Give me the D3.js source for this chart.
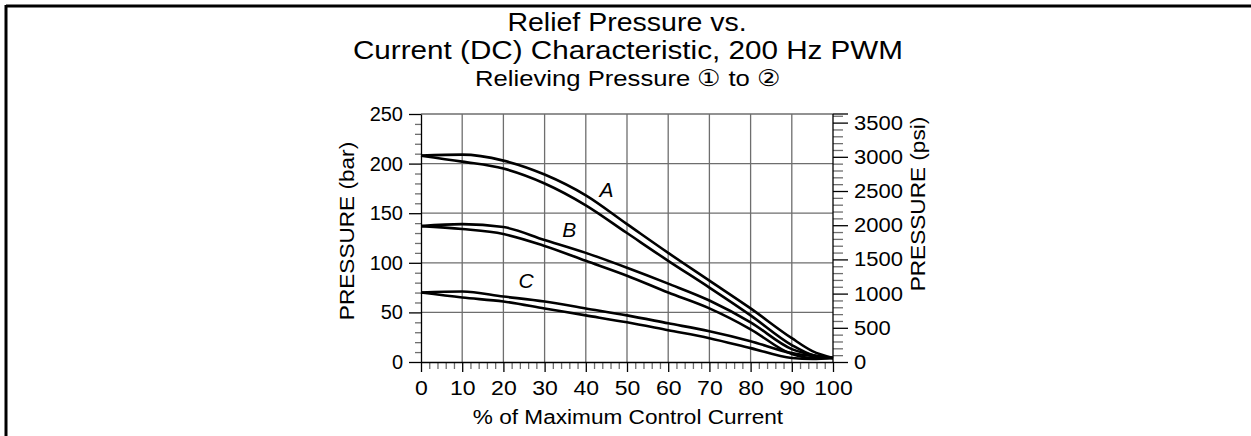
<!DOCTYPE html>
<html>
<head>
<meta charset="utf-8">
<script src="https://cdn.jsdelivr.net/npm/d3@7"></script>
<style>
  body { margin: 0; background: #fff; }
  svg { display: block; font-family: "Liberation Sans", Arial, sans-serif; }
  .grid line { stroke: #6e6e6e; stroke-width: 1.3; }
  .axis path, .axis line { stroke: #000; stroke-width: 1.3; }
  .minor line { stroke: #6e6e6e; stroke-width: 1.3; }
  .axis text { font-size: 20px; fill: #000; font-family: "Liberation Sans", Arial, sans-serif; }
  .curve { fill: none; stroke: #000; stroke-width: 2.6; }
</style>
</head>
<body>
<div id="app"></div>
<script>
// % of max control current
var pct = [0, 10, 20, 30, 40, 50, 60, 70, 80, 90, 95, 100]

// relief pressure (bar), upper and lower branch of each loop
var aUpper = [208, 209, 203, 189, 168, 139, 110, 82, 54, 24, 11, 4]
var aLower = [208, 202, 195, 180, 158, 130, 102, 75, 47, 17, 7, 4]
var bUpper = [137, 139, 136, 123, 110, 95, 79, 62, 40, 13, 7, 4]
var bLower = [137, 134, 129, 117, 102, 87, 70, 54, 33, 8, 4, 4]
var cUpper = [70, 71, 66, 61, 54, 47, 39, 31, 21, 9, 6, 4]
var cLower = [70, 65, 61, 54, 47, 40, 32, 24, 14, 4, 3, 4]

var xTicks = [0, 10, 20, 30, 40, 50, 60, 70, 80, 90, 100]
var barTicks = [0, 50, 100, 150, 200, 250]
var psiTicks = [0, 500, 1000, 1500, 2000, 2500, 3000, 3500]

var curveLabels = [
	{ name: 'A', x: 45, y: 166 },
	{ name: 'B', x: 36, y: 126 },
	{ name: 'C', x: 25.5, y: 75 }
]

var width = 1251
var height = 436
var PSI_PER_BAR = 14.5038

// the scanned original is a bit wider than Liberation Sans
function stretch(sel, k) {
	sel.each(function() {
		var w = this.getComputedTextLength()
		d3.select(this).attr('textLength', w * k).attr('lengthAdjust', 'spacingAndGlyphs')
	})
}

var svg = d3.select('#app')
	.append('svg')
	  .attr('width', width)
	  .attr('height', height)

// page frame (top and left edge only)
svg.append('line').attr('x1', 6).attr('x2', width).attr('y1', 6).attr('y2', 6)
	.attr('stroke', '#000').attr('stroke-width', 3)
svg.append('line').attr('x1', 6).attr('x2', 6).attr('y1', 5).attr('y2', height)
	.attr('stroke', '#000').attr('stroke-width', 3)

var x = d3.scaleLinear().domain([0, 100]).range([421, 833])
var y = d3.scaleLinear().domain([0, 250]).range([362, 114])
var yPsi = d3.scaleLinear().domain([0, 250 * PSI_PER_BAR]).range([362, 114])

// titles
var title = svg.append('g').attr('text-anchor', 'middle').attr('fill', '#000')
title.append('text').attr('x', 627).attr('y', 31).style('font-size', '25px').text('Relief Pressure vs.')
title.append('text').attr('x', 628).attr('y', 59).style('font-size', '26px').text('Current (DC) Characteristic, 200 Hz PWM')
title.append('text').attr('x', 628).attr('y', 86).style('font-size', '22.5px').text('Relieving Pressure \u2460 to \u2461')
stretch(title.selectAll('text'), 1.14)

// grid
var grid = svg.append('g').attr('class', 'grid')
grid.selectAll('.vg').data(xTicks.slice(1, -1))
  .enter().append('line')
	.attr('x1', function(d) { return x(d) }).attr('x2', function(d) { return x(d) })
	.attr('y1', y(0)).attr('y2', y(250))
grid.selectAll('.hg').data(barTicks.slice(1))
  .enter().append('line')
	.attr('x1', x(0)).attr('x2', x(100))
	.attr('y1', function(d) { return y(d) }).attr('y2', function(d) { return y(d) })

// minor ticks
function minorRange(lo, hi, step, skip) {
	var out = []
	for (var v = lo; v <= hi; v += step) if (v % skip !== 0) out.push(v)
	return out
}

svg.append('g').attr('class', 'minor')
	.attr('transform', 'translate(' + x(0) + ',0)')
	.call(d3.axisLeft(y).tickValues(minorRange(0, 250, 10, 50)).tickSize(6).tickFormat('').tickSizeOuter(0))
	.call(function(g) { g.select('.domain').remove() })

svg.append('g').attr('class', 'minor')
	.attr('transform', 'translate(0,' + y(0) + ')')
	.call(d3.axisBottom(x).tickValues(minorRange(0, 100, 2, 10)).tickSize(7).tickFormat('').tickSizeOuter(0))
	.call(function(g) { g.select('.domain').remove() })

svg.append('g').attr('class', 'minor')
	.attr('transform', 'translate(' + x(100) + ',0)')
	.call(d3.axisRight(yPsi).tickValues(minorRange(0, 3600, 100, 500)).tickSize(10).tickFormat('').tickSizeOuter(0))
	.call(function(g) { g.select('.domain').remove() })

// main axes
svg.append('g').attr('class', 'axis')
	.attr('transform', 'translate(' + x(0) + ',0)')
	.call(d3.axisLeft(y).tickValues(barTicks).tickSize(12).tickPadding(6).tickSizeOuter(0))

var bottom = svg.append('g').attr('class', 'axis')
	.attr('transform', 'translate(0,' + y(0) + ')')
	.call(d3.axisBottom(x).tickValues(xTicks).tickSize(10).tickPadding(9).tickSizeOuter(0))
stretch(bottom.selectAll('text'), 1.15)

var right = svg.append('g').attr('class', 'axis')
	.attr('transform', 'translate(' + x(100) + ',0)')
	.call(d3.axisRight(yPsi).tickValues(psiTicks).tickSize(15).tickPadding(6).tickSizeOuter(0).tickFormat(d3.format('d')))
right.select('.domain').attr('d', 'M0,' + y(250) + 'V' + y(0))
right.append('line').attr('x1', 0).attr('x2', 15).attr('y1', y(250)).attr('y2', y(250))
stretch(right.selectAll('text'), 1.1)

// axis titles
var titles = svg.append('g').style('font-size', '20px').attr('text-anchor', 'middle')
titles.append('text').attr('transform', 'translate(354,231) rotate(-90)').text('PRESSURE (bar)')
titles.append('text').attr('transform', 'translate(925,204) rotate(-90)').text('PRESSURE (psi)')
titles.append('text').attr('x', 628).attr('y', 424).text('% of Maximum Control Current')
stretch(titles.selectAll('text'), 1.13)

// curves
var line = d3.line()
	.x(function(d) { return x(d[0]) })
	.y(function(d) { return y(d[1]) })
	.curve(d3.curveMonotoneX)

var branches = [aUpper, aLower, bUpper, bLower, cUpper, cLower]
svg.append('g').selectAll('.curve').data(branches)
  .enter().append('path')
	.attr('class', 'curve')
	.attr('d', function(vals) { return line(d3.zip(pct, vals)) })

svg.append('g').selectAll('.lbl').data(curveLabels)
  .enter().append('text')
	.attr('x', function(d) { return x(d.x) })
	.attr('y', function(d) { return y(d.y) })
	.attr('text-anchor', 'middle')
	.style('font-size', '21px')
	.style('font-style', 'italic')
	.text(function(d) { return d.name })
</script>
</body>
</html>
